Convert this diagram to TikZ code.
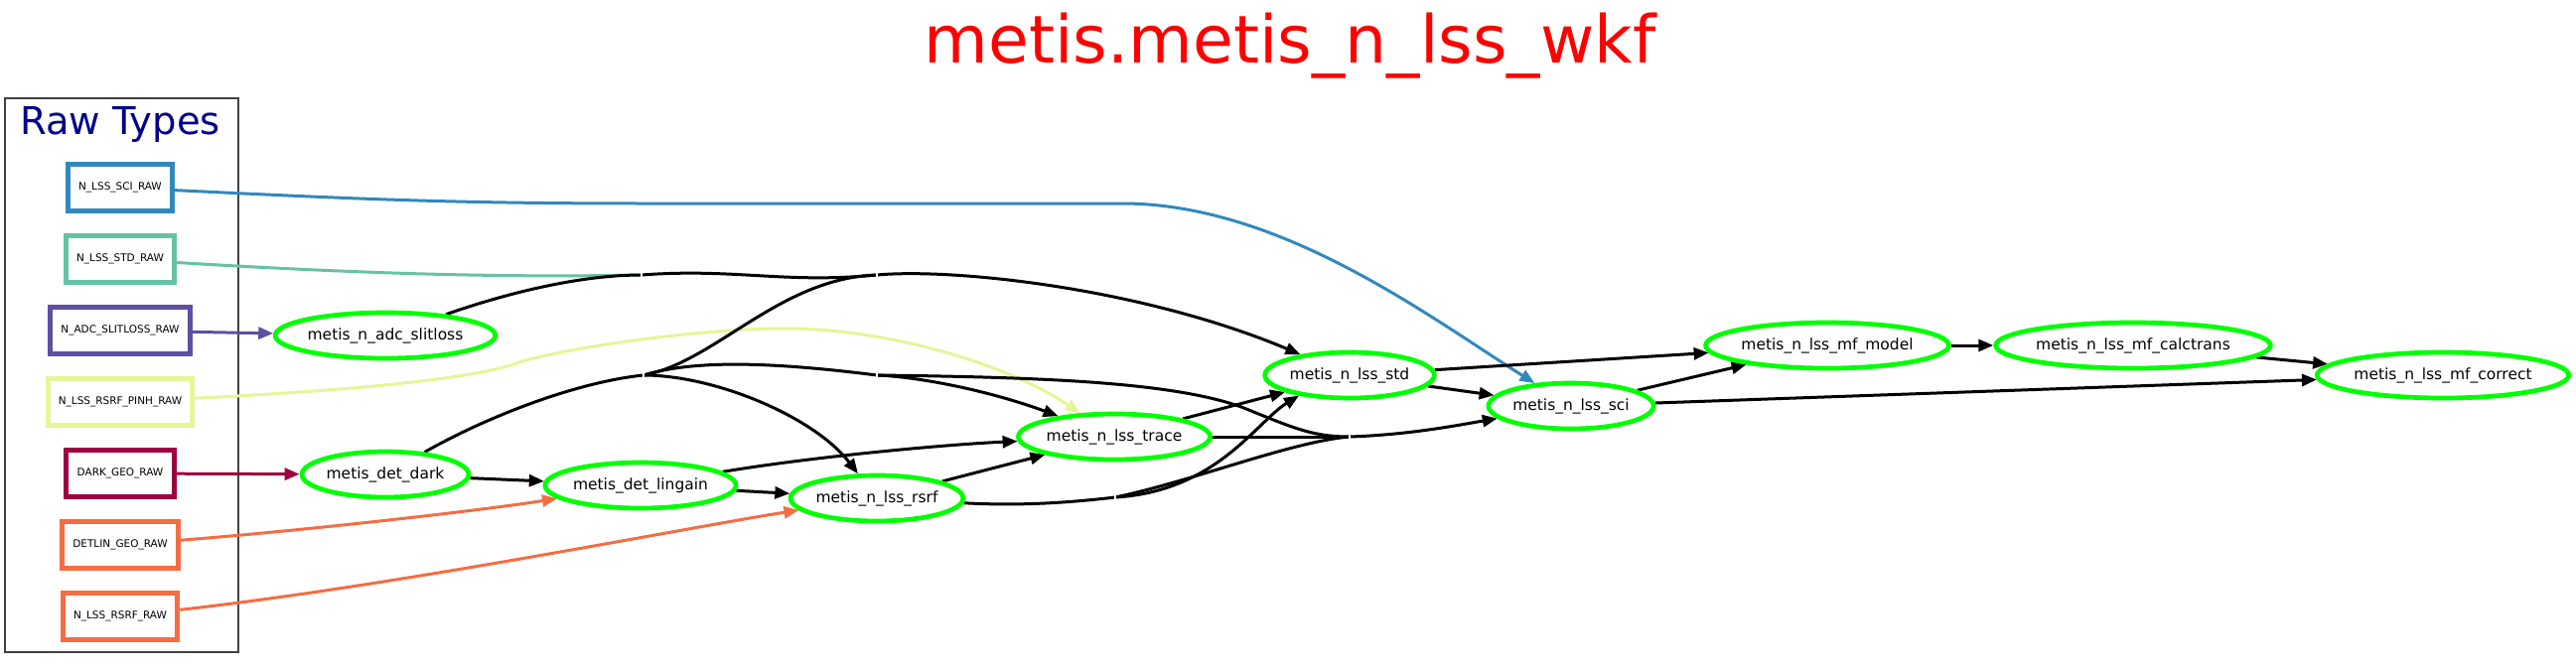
\documentclass[tikz,border=0pt]{standalone}
\usepackage{fontspec}
\setmainfont{DejaVu Sans}
\usetikzlibrary{shapes.geometric,arrows.meta,backgrounds}

\definecolor{vert}{HTML}{00FF00}
\definecolor{titrerouge}{HTML}{FF0000}
\definecolor{groupebleu}{HTML}{00008B}
\definecolor{sciraw}{HTML}{3288BD}
\definecolor{stdraw}{HTML}{66C2A5}
\definecolor{adcraw}{HTML}{5E4FA2}
\definecolor{pinhraw}{HTML}{E6F598}
\definecolor{darkraw}{HTML}{9E0142}
\definecolor{orangeraw}{HTML}{F46D43}

\tikzset{
  etape/.style={ellipse, draw=vert, line width=4.7pt, inner xsep=0pt, inner ysep=0pt,
    minimum height=46pt, font=\fontsize{15.5}{18}\selectfont},
  brut/.style={draw=#1, line width=5pt, inner xsep=10.8pt, inner ysep=0pt,
    minimum height=47pt, font=\fontsize{10.5}{12}\selectfont},
  fil/.style={line width=3pt},
  lien/.style={fil, ->},
  coupure/.style={white, line width=1.5pt},
  cadre/.style={draw=black!75, line width=1.8pt},
}

\begin{document}
\begin{tikzpicture}[x=1pt, y=-1pt, >={Triangle[length=15pt,width=12pt]}]
    \useasboundingbox (0,0) rectangle (2594,672);

    % Titre
    \node[anchor=base, text=titrerouge, font=\fontsize{66.5}{80}\selectfont] (titre) at (1299,63) {metis.metis\_n\_lss\_wkf};

    % Groupe des types bruts
    \node[anchor=base, text=groupebleu, font=\fontsize{38.5}{46}\selectfont] (groupe) at (121,135) {Raw Types};
    \node[brut=sciraw] (raw_sci) at (121,189) {N\_LSS\_SCI\_RAW};
    \node[brut=stdraw] (raw_std) at (121,261) {N\_LSS\_STD\_RAW};
    \node[brut=adcraw] (raw_adc) at (121,333) {N\_ADC\_SLITLOSS\_RAW};
    \node[brut=pinhraw] (raw_pinh) at (121,405) {N\_LSS\_RSRF\_PINH\_RAW};
    \node[brut=darkraw] (raw_dark) at (121,477) {DARK\_GEO\_RAW};
    \node[brut=orangeraw] (raw_detlin) at (121,549) {DETLIN\_GEO\_RAW};
    \node[brut=orangeraw] (raw_rsrf) at (121,621) {N\_LSS\_RSRF\_RAW};

    % Recettes
    \node[etape] (slit) at (388,338) {metis\_n\_adc\_slitloss};
    \node[etape] (dark) at (388,478) {metis\_det\_dark};
    \node[etape] (ling) at (645,489) {metis\_det\_lingain};
    \node[etape] (rsrf) at (883,502) {metis\_n\_lss\_rsrf};
    \node[etape] (trace) at (1122,440) {metis\_n\_lss\_trace};
    \node[etape] (std) at (1359,378) {metis\_n\_lss\_std};
    \node[etape] (sci) at (1582,409) {metis\_n\_lss\_sci};
    \node[etape] (model) at (1840,348) {metis\_n\_lss\_mf\_model};
    \node[etape] (calc) at (2148,348) {metis\_n\_lss\_mf\_calctrans};
    \node[etape] (correct) at (2460,378) {metis\_n\_lss\_mf\_correct};

    % Points de jonction
    \coordinate (j1) at (646,277);
    \coordinate (j2) at (883,277);
    \coordinate (j3) at (648,378);
    \coordinate (j4) at (883,378);
    \coordinate (j5) at (1359,440);
    \coordinate (j6) at (1123,501);

    \begin{scope}[on background layer]
    \draw[cadre] (5,99) rectangle (240,657);

    % Entrees brutes
    \draw[lien, sciraw] (raw_sci) .. controls (350,200) and (450,205) .. (650,205) -- (1130,205) .. controls (1290,205) and (1440,320) .. (sci);
    \draw[fil, stdraw] (raw_std) .. controls (350,275) and (500,280) .. (j1);
    \draw[lien, adcraw] (raw_adc) -- (slit);
    \draw[lien, pinhraw] (raw_pinh) .. controls (380,392) and (480,380) .. (520,366) .. controls (560,352) and (700,331) .. (790,331) .. controls (900,331) and (1020,370) .. (trace);
    \draw[lien, darkraw] (raw_dark) -- (dark);
    \draw[lien, orangeraw] (raw_detlin) .. controls (300,535) and (480,515) .. (ling);
    \draw[lien, orangeraw] (raw_rsrf) .. controls (400,590) and (700,530) .. (rsrf);

    % Branches regroupees
    \draw[fil] (slit) .. controls (520,292) and (590,277) .. (j1);
    \draw[fil] (j1) .. controls (740,270) and (790,286) .. (j2);
    \draw[lien] (j2) .. controls (960,270) and (1150,290) .. (std);
    \draw[fil] (dark) .. controls (490,420) and (580,385) .. (j3);
    \draw[fil] (j3) .. controls (720,365) and (785,280) .. (j2);
    \draw[fil] (j3) .. controls (700,362) and (780,365) .. (j4);
    \draw[lien] (j3) .. controls (720,378) and (820,420) .. (rsrf);
    \draw[lien] (j4) .. controls (930,380) and (1000,395) .. (trace);
    \draw[fil] (j4) .. controls (1050,380) and (1180,385) .. (1250,410) .. controls (1300,430) and (1320,440) .. (j5);
    \draw[fil] (trace) -- (j5);
    \draw[lien] (j5) .. controls (1420,438) and (1470,428) .. (sci);
    \draw[fil] (rsrf) .. controls (1030,510) and (1080,506) .. (j6);
    \draw[fil] (j6) .. controls (1200,485) and (1300,445) .. (j5);
    \draw[lien] (j6) .. controls (1225,495) and (1265,425) .. (std.202);

    % Liens directs
    \draw[lien] (dark) -- (ling);
    \draw[lien] (ling) -- (rsrf);
    \draw[lien] (ling) .. controls (820,460) and (950,448) .. (trace);
    \draw[lien] (rsrf) -- (trace);
    \draw[lien] (trace) -- (std);
    \draw[lien] (std) -- (sci);
    \draw[lien] (std) -- (model);
    \draw[lien] (sci) -- (model);
    \draw[lien] (sci) -- (correct);
    \draw[lien] (model) -- (calc);
    \draw[lien] (calc) -- (correct);

    % Coupures aux jonctions
    \foreach \j in {j1,j2,j3,j4,j5,j6}
        \draw[coupure] (\j) ++(0,-3) -- ++(0,6);
    \end{scope}
\end{tikzpicture}
\end{document}
